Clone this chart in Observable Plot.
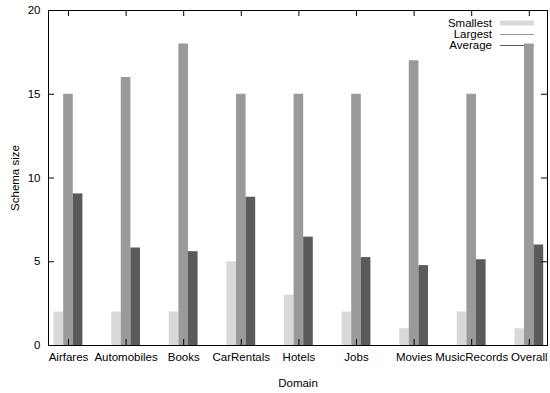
<!DOCTYPE html>
<html><head><meta charset="utf-8">
<script src="https://cdn.jsdelivr.net/npm/d3@7"></script>
<script src="https://cdn.jsdelivr.net/npm/@observablehq/plot@0.6"></script>
<style>body{margin:0;background:#fff}</style>
</head><body><div id="chart"></div>
<script>
const categories = ["Airfares","Automobiles","Books","CarRentals","Hotels","Jobs","Movies","MusicRecords","Overall"];
const seriesNames = ["Smallest","Largest","Average"];
const smallest = [2,2,2,5,3,2,1,2,1];
const largest  = [15,16,18,15,15,15,17,15,18];
const average  = [9.05,5.82,5.6,8.85,6.47,5.25,4.77,5.12,6.0];
const yTicks = [0,5,10,15,20];
const colors = ["#d9d9d9","#9a9a9a","#5a5a5a"];

const W = 550, H = 393, mL = 48, mR = 3, mT = 10, mB = 48;
const plotW = W - mL - mR, plotH = H - mT - mB;
const bw = 1/6;
const rows = categories.flatMap((c, i) =>
  [smallest[i], largest[i], average[i]].map((v, s) => ({c, i, s, series: seriesNames[s], v})));
const idx = d3.range(categories.length);

const plot = Plot.plot({
  width: W, height: H, marginLeft: mL, marginRight: mR, marginTop: mT, marginBottom: mB,
  style: {fontFamily: "'Liberation Sans', Arial, sans-serif", fontSize: "11.5px", color: "#000", background: "#fff", overflow: "visible"},
  x: {type: "linear", domain: [-0.347, 8.316]},
  y: {domain: [0, 20]},
  color: {domain: seriesNames, range: colors},
  marks: [
    Plot.rectY(rows, {x1: d => d.i + (d.s - 1.5) * bw, x2: d => d.i + (d.s - 0.5) * bw, y1: 0, y2: "v", fill: "series"}),
    Plot.frame({stroke: "#000", strokeWidth: 1}),
    Plot.tickY(yTicks, {y: d => d, stroke: "#000", insetRight: plotW - 6}),
    Plot.tickY(yTicks, {y: d => d, stroke: "#000", insetLeft: plotW - 6}),
    Plot.tickX(idx, {x: d => d, stroke: "#000", insetBottom: plotH - 6}),
    Plot.tickX(idx, {x: d => d, stroke: "#000", insetTop: plotH - 6}),
    Plot.axisY({ticks: yTicks, tickSize: 0, tickPadding: 8, label: "Schema size", labelAnchor: "center", labelArrow: "none", labelOffset: 38, fontSize: 11.5}),
    Plot.axisX({ticks: idx, tickFormat: i => categories[i], tickSize: 0, tickPadding: 7, label: "Domain", labelAnchor: "center", labelArrow: "none", labelOffset: 41, fontSize: 11.5})
  ]
});
document.getElementById("chart").appendChild(plot);

// gnuplot-style key (top right, inside frame)
const svg = d3.select(plot);
const key = svg.insert("g", ":first-child").attr("font-family", "'Liberation Sans', Arial, sans-serif").attr("font-size", 11.5);
const keyRight = W - mR - 55, sx1 = keyRight + 8, sx2 = keyRight + 42;
seriesNames.forEach((name, k) => {
  const yy = 23 + k * 11;
  key.append("text").attr("x", keyRight).attr("y", yy).attr("dy", "0.35em").attr("text-anchor", "end").attr("fill", "#000").text(name);
  if (k === 0) {
    key.append("rect").attr("x", sx1).attr("y", yy - 2.5).attr("width", sx2 - sx1).attr("height", 5).attr("fill", colors[0]);
  } else {
    key.append("line").attr("x1", sx1).attr("x2", sx2).attr("y1", yy + 0.5).attr("y2", yy + 0.5).attr("stroke", colors[k]).attr("stroke-width", 1);
  }
});
</script>
</body></html>
